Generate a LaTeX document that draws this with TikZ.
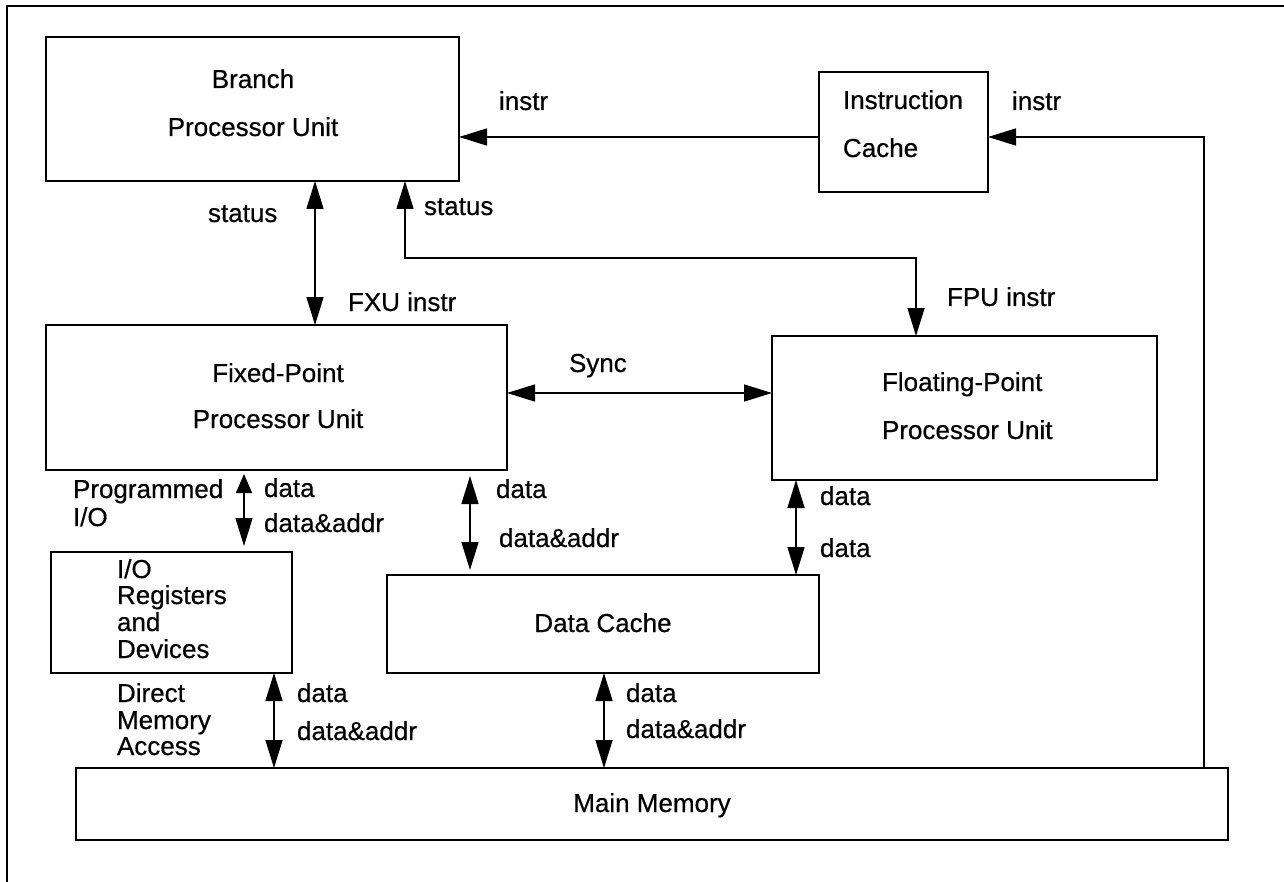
\documentclass[tikz,border=0pt]{standalone}
\usepackage{fontspec}
\setmainfont{Liberation Sans}
\newfontface\lblfont{Liberation Sans}[FakeBold=0.5]
\usetikzlibrary{arrows.meta,fit}
\begin{document}
\begin{tikzpicture}[x=0.5pt,y=-0.5pt,
  box/.style={draw, line width=1pt, inner sep=0pt, outer sep=0pt},
  conn/.style={line width=0.75pt},
  tip/.style={-{Triangle[length=14pt,width=8.5pt]}},
  both/.style={{Triangle[length=14pt,width=8.5pt]}-{Triangle[length=14pt,width=8.5pt]}},
  lbl/.style={inner sep=0pt, outer sep=0pt, font=\lblfont\fontsize{13}{15}\selectfont, anchor=base west},
  clbl/.style={lbl, anchor=base}]
\useasboundingbox (0,0) rectangle (1284,882);
\draw[line width=1pt] (7,882) -- (7,6) -- (1284,6);
% boxes
\node[box, fit={(46,37)(459,181)}] (bpu) {};
\node[box, fit={(819,72)(988,192)}] (ic) {};
\node[box, fit={(46,325)(507,470)}] (fxu) {};
\node[box, fit={(772,336)(1157,480)}] (fpu) {};
\node[box, fit={(51,552)(292,673)}] (io) {};
\node[box, fit={(387,575)(819,673)}] (dc) {};
\node[box, fit={(76,768)(1228,840)}] (mm) {};
% helper coordinates
\coordinate (yi) at (0,137);
\coordinate (xf) at (1204,0);
\coordinate (xs1) at (315,0);
\coordinate (xs2) at (405,0);
\coordinate (yh) at (0,258);
\coordinate (xp) at (916,0);
\coordinate (ys) at (0,393);
\coordinate (xpio) at (244,0);
\coordinate (xfd) at (470,0);
\coordinate (xpd) at (796,0);
\coordinate (xdma) at (274,0);
\coordinate (xdm) at (604,0);
% connectors
\draw[conn, tip] (ic.west |- yi) -- (bpu.east |- yi);
\draw[conn, tip] (mm.north -| xf) |- (ic.east |- yi);
\draw[conn, both] (bpu.south -| xs1) -- (fxu.north -| xs1);
\draw[conn, both] (bpu.south -| xs2) -- (xs2 |- yh) -| (fpu.north -| xp);
\draw[conn, both] (fxu.east |- ys) -- (fpu.west |- ys);
\draw[conn, {Triangle[length=9.5pt,width=8pt]}-{Triangle[length=14pt,width=8.5pt]}, shorten <=2pt, shorten >=3pt] (fxu.south -| xpio) -- (io.north -| xpio);
\draw[conn, both, shorten <=3pt, shorten >=2.5pt] (fxu.south -| xfd) -- (dc.north -| xfd);
\draw[conn, both] (fpu.south -| xpd) -- (dc.north -| xpd);
\draw[conn, both] (io.south -| xdma) -- (mm.north -| xdma);
\draw[conn, both] (dc.south -| xdm) -- (mm.north -| xdm);
% texts
\node[clbl] (t-bpu1) at (253,88) {Branch};
\node[clbl] (t-bpu2) at (253,136) {Processor Unit};
\node[lbl] (t-ic1) at (843,109) {Instruction};
\node[lbl] (t-ic2) at (843,157) {Cache};
\node[lbl] (l-instr1) at (499,110) {instr};
\node[lbl] (l-instr2) at (1012,110) {instr};
\node[lbl] (l-status1) at (208,222) {status};
\node[lbl] (l-status2) at (424,215) {status};
\node[lbl] (l-fxui) at (348,311) {FXU instr};
\node[lbl] (l-fpui) at (947,306) {FPU instr};
\node[clbl] (t-fxu1) at (278,382) {Fixed-Point};
\node[clbl] (t-fxu2) at (278,428) {Processor Unit};
\node[lbl] (t-fpu1) at (882,391) {Floating-Point};
\node[lbl] (t-fpu2) at (882,439) {Processor Unit};
\node[lbl] (l-sync) at (569,372) {Sync};
\node[lbl] (l-pio1) at (73,498) {Programmed};
\node[lbl] (l-pio2) at (73,526) {I/O};
\node[lbl] (l-pd1) at (264,497) {data};
\node[lbl] (l-pd2) at (264,532) {data\&addr};
\node[lbl] (t-io1) at (117,578) {I/O};
\node[lbl] (t-io2) at (117,604) {Registers};
\node[lbl] (t-io3) at (117,631) {and};
\node[lbl] (t-io4) at (117,658) {Devices};
\node[lbl] (l-fd1) at (496,498) {data};
\node[lbl] (l-fd2) at (499,547) {data\&addr};
\node[lbl] (l-pd3) at (820,505) {data};
\node[lbl] (l-pd4) at (820,557) {data};
\node[clbl] (t-dc) at (603,632) {Data Cache};
\node[lbl] (l-dma1) at (117,702) {Direct};
\node[lbl] (l-dma2) at (117,729) {Memory};
\node[lbl] (l-dma3) at (117,755) {Access};
\node[lbl] (l-dd1) at (297,702) {data};
\node[lbl] (l-dd2) at (297,740) {data\&addr};
\node[lbl] (l-md1) at (626,702) {data};
\node[lbl] (l-md2) at (626,738) {data\&addr};
\node[clbl] (t-mm) at (652,812) {Main Memory};
\end{tikzpicture}
\end{document}
